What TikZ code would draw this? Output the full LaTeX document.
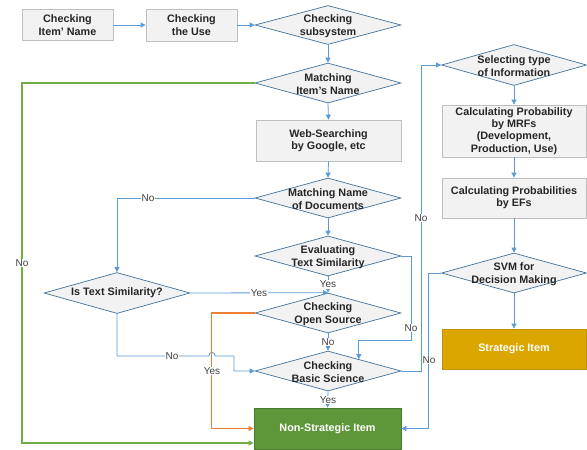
\documentclass[tikz,border=0pt]{standalone}
\usepackage{fontspec}
\setmainfont{Liberation Sans}
\usetikzlibrary{shapes.geometric,arrows.meta,calc}
\definecolor{boxfill}{HTML}{F2F2F2}
\definecolor{boxline}{HTML}{BFBFBF}
\definecolor{dialine}{HTML}{41719C}
\definecolor{connblue}{HTML}{5B9BD5}
\definecolor{gline}{HTML}{70AD47}
\definecolor{oline}{HTML}{ED7D31}
\definecolor{nsfill}{RGB}{94,150,58}
\definecolor{nsline}{HTML}{4A7B2C}
\definecolor{stfill}{RGB}{220,166,0}
\definecolor{stline}{HTML}{BF9000}
\begin{document}
\begin{tikzpicture}[x=1pt,y=-1pt,
  box/.style={draw=boxline, fill=boxfill, line width=0.8pt, minimum width=145pt, minimum height=41pt, inner sep=0pt, align=center, font=\bfseries\fontsize{10.8}{12.4}\selectfont, text=black!85},
  dia/.style={diamond, draw=dialine, fill=boxfill, line width=0.7pt, minimum width=146pt, minimum height=40pt, inner sep=0pt},
  dtxt/.style={align=center, inner sep=0pt, yshift=-1.2pt, font=\bfseries\fontsize{10.8}{12.4}\selectfont, text=black!85},
  conn/.style={draw=connblue, line width=0.8pt, -{Triangle[length=5pt,width=5pt]}},
  gconn/.style={draw=gline, line width=1.3pt, -{Triangle[length=5pt,width=5pt]}},
  oconn/.style={draw=oline, line width=1.3pt, -{Triangle[length=5pt,width=5pt]}},
  lab/.style={fill=white, inner sep=0.8pt, font=\fontsize{10}{12}\selectfont, text=black!75}
]
\useasboundingbox (0,0) rectangle (587,450);

% left top row
\node[box, minimum width=91pt, minimum height=31pt] (b1) at (67.5,25) {Checking\\Item' Name};
\node[box, minimum width=91pt, minimum height=32pt] (b2) at (191.5,25) {Checking\\the Use};

% main column
\node[dia, minimum height=39pt, label={[dtxt]center:{Checking\\subsystem}}] (d1) at (328,25) {};
\node[dia, label={[dtxt]center:{Matching\\Item's Name}}] (d2) at (328,83) {};
\node[box] (b3) at (328.5,140.5) {Web-Searching\\by Google, etc};
\node[dia, label={[dtxt]center:{Matching Name\\of Documents}}] (d3) at (328,198) {};
\node[dia, label={[dtxt]center:{Evaluating\\Text Similarity}}] (d4) at (328,256) {};
\node[dia, label={[dtxt]center:{Checking\\Open Source}}] (d5) at (328,313) {};
\node[dia, label={[dtxt]center:{Checking\\Basic Science}}] (d6) at (328,371) {};
\node[box, minimum width=147pt, fill=nsfill, draw=nsline, text=white] (ns) at (327.5,428.5) {Non-Strategic Item};

% left diamond
\node[dia, minimum height=41pt, label={[dtxt,yshift=1.2pt]center:{Is Text Similarity?}}] (d7) at (117,293) {};

% right column
\node[dia, minimum width=145pt, minimum height=41pt, label={[dtxt]center:{Selecting type\\of Information}}] (r1) at (514,65) {};
\node[box, minimum width=144pt, minimum height=52pt] (r2) at (514,131) {Calculating Probability\\by MRFs\\(Development,\\Production, Use)};
\node[box, minimum width=144pt, minimum height=40pt] (r3) at (514,198) {Calculating Probabilities\\by EFs};
\node[dia, minimum width=145pt, label={[dtxt]center:{SVM for\\Decision Making}}] (r4) at (514,273) {};
\node[box, minimum width=144pt, minimum height=40pt, fill=stfill, draw=stline, text=white] (st) at (514,349) {Strategic Item};

% connectors
\draw[conn] (b1.east) -- (b2.west);
\draw[conn] (b2.east) -- (d1.west);
\draw[conn] (d1.south) -- (d2.north);
\draw[conn] (d2.south) -- (b3.north);
\draw[conn] (b3.south) -- (d3.north);
\draw[conn] (d3.south) -- (d4.north);
\draw[conn] (d4.south) -- (d5.north);
\draw[conn] (d5.south) -- (d6.north);
\draw[conn] (d6.south) -- (ns.north);
\draw[conn] (d3.west) -| (d7.north);
\draw[conn] (d7.east) -- (d5.north);
\coordinate (d6in) at ($(d6.north)!0.42!(d6.east)$);
\draw[conn] (d4.east) -- ++(10,0) -- ++(0,84) -| (d6in);
\draw[conn] (d7.south) -- (117,356) -- (209,356) .. controls (209,351) and (215,351) .. (215,356) -- (234,356) |- (d6.west);
\draw[conn] (d6.east) -- ++(20,0) |- (r1.west);
\draw[conn] (r1.south) -- (r2.north);
\draw[conn] (r2.south) -- (r3.north);
\draw[conn] (r3.south) -- (r4.north);
\draw[conn] (r4.south) -- (st.north);
\draw[conn] (r4.west) -- ++(-13,0) |- (ns.east);
\draw[oconn] (d5.west) -- ++(-43,0) |- (ns.west);
\coordinate (gcorner) at (22,443);
\draw[gconn] (d2.west) -| (gcorner) -- (gcorner -| ns.west);

% labels
\node[lab] (l1) at (148,198) {No};
\node[lab] (l2) at (259,293) {Yes};
\node[lab] (l3) at (328,284.5) {Yes};
\node[lab] (l4) at (411,328) {No};
\node[lab] (l5) at (328,342) {No};
\node[lab] (l6) at (212,371) {Yes};
\node[lab] (l7) at (172,356) {No};
\node[lab] (l8) at (328,400) {Yes};
\node[lab] (l9) at (421,218) {No};
\node[lab] (l10) at (22,263) {No};
\node[lab] (l11) at (429,360) {No};
\end{tikzpicture}
\end{document}
